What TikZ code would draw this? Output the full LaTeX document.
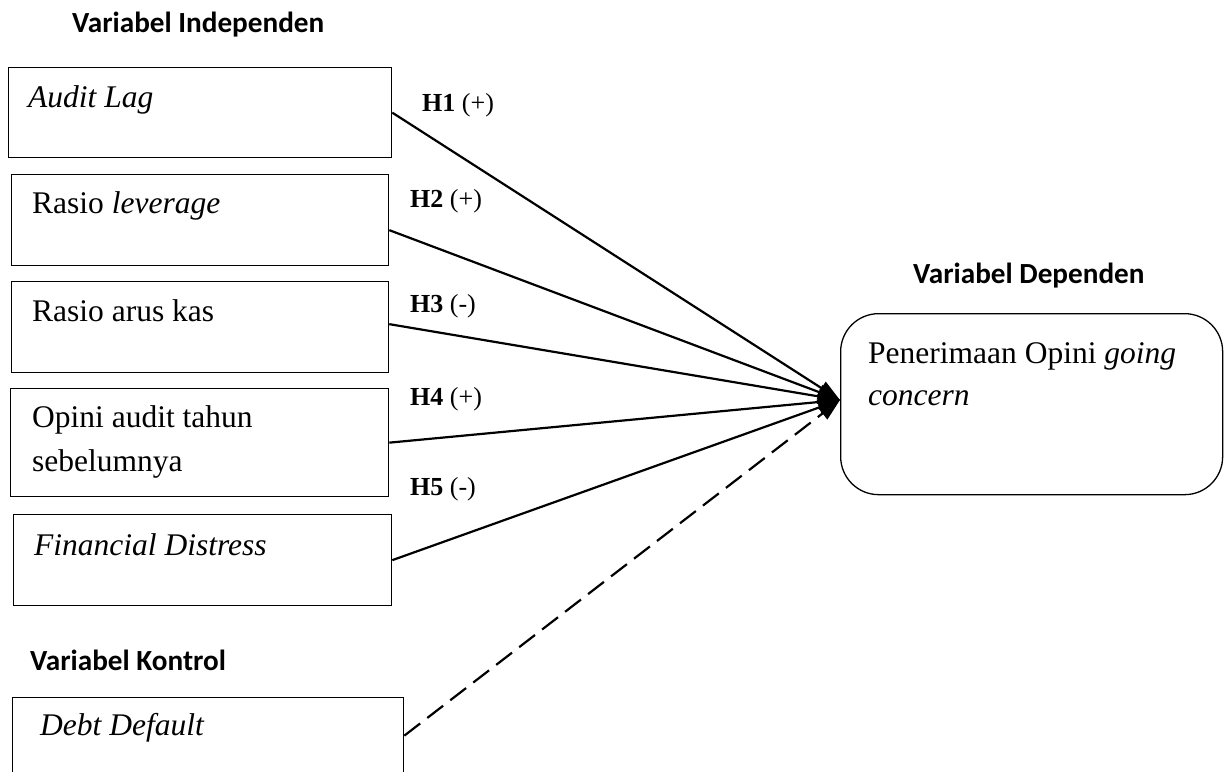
\documentclass[tikz,border=0pt]{standalone}
\usepackage{fontspec}
\setmainfont{Liberation Serif}
\newfontfamily\calfont{Carlito}
\usetikzlibrary{arrows.meta}
\tikzset{
  varbox/.style={draw, line width=1.3pt, rectangle, anchor=north west, inner sep=0pt},
  depbox/.style={draw, line width=1.3pt, rectangle, rounded corners=38pt, anchor=north west, inner sep=0pt},
  boxtext/.style={anchor=base west, inner sep=0pt, font=\fontsize{31.5}{44}\selectfont},
  title/.style={anchor=base west, inner sep=0pt, font=\calfont\bfseries\fontsize{29.2}{34}\selectfont},
  hyp/.style={anchor=base west, inner sep=0pt, font=\fontsize{26}{30}\selectfont},
  link/.style={line width=2.2pt, -{Triangle[length=22pt,width=15pt]}},
  ctrl/.style={line width=2.2pt, dash pattern=on 20pt off 9pt, -{Triangle[length=22pt,width=15pt]}}
}
\begin{document}
\begin{tikzpicture}[x=1pt,y=-1pt]
\useasboundingbox (0,0) rectangle (1225,771);
\clip (0,0) rectangle (1225,771);
% titles
\node[title] (tind) at (72,32) {Variabel Independen};
\node[title] (tdep) at (913,283) {Variabel Dependen};
\node[title] (tkon) at (30,670) {Variabel Kontrol};
% boxes
\node[varbox, minimum width=383pt, minimum height=90pt] (b1) at (8,67) {};
\node[varbox, minimum width=377pt, minimum height=91pt] (b2) at (11,174) {};
\node[varbox, minimum width=377pt, minimum height=91pt] (b3) at (11,281) {};
\node[varbox, minimum width=378pt, minimum height=108pt] (b4) at (10,388) {};
\node[varbox, minimum width=378pt, minimum height=91pt] (b5) at (13,514) {};
\node[varbox, minimum width=391pt, minimum height=110pt] (b6) at (12,697) {};
\node[depbox, minimum width=382pt, minimum height=181pt] (dep) at (840,313) {};
% box texts
\node[boxtext] (x1) at (28,107) {\itshape Audit Lag};
\node[boxtext] (x2) at (32,213) {Rasio \itshape leverage};
\node[boxtext] (x3) at (32,321) {Rasio arus kas};
\node[boxtext] (x4a) at (32,427) {Opini audit tahun};
\node[boxtext] (x4b) at (32,471) {sebelumnya};
\node[boxtext] (x5) at (34,555) {\itshape Financial Distress};
\node[boxtext] (x6) at (40,735) {\itshape Debt Default};
\node[boxtext] (y1a) at (868,363) {Penerimaan Opini \itshape going};
\node[boxtext] (y1b) at (868,405) {\itshape concern};
% hypothesis labels
\node[hyp] (h1) at (422,111) {\textbf{H1} (+)};
\node[hyp] (h2) at (410,207) {\textbf{H2} (+)};
\node[hyp] (h3) at (410,312) {\textbf{H3} (-)};
\node[hyp] (h4) at (410,405) {\textbf{H4} (+)};
\node[hyp] (h5) at (410,495) {\textbf{H5} (-)};
% connectors
\coordinate (tip) at (840,400);
\draw[link] (b1.east) -- (tip);
\draw[link] ([yshift=-10pt]b2.east) -- (tip);
\draw[link] ([yshift=3pt]b3.east) -- (tip);
\draw[link] (b4.east) -- (tip);
\draw[link] (b5.east) -- (tip);
\draw[ctrl] ([yshift=17pt]b6.east) -- (tip);
\end{tikzpicture}
\end{document}
